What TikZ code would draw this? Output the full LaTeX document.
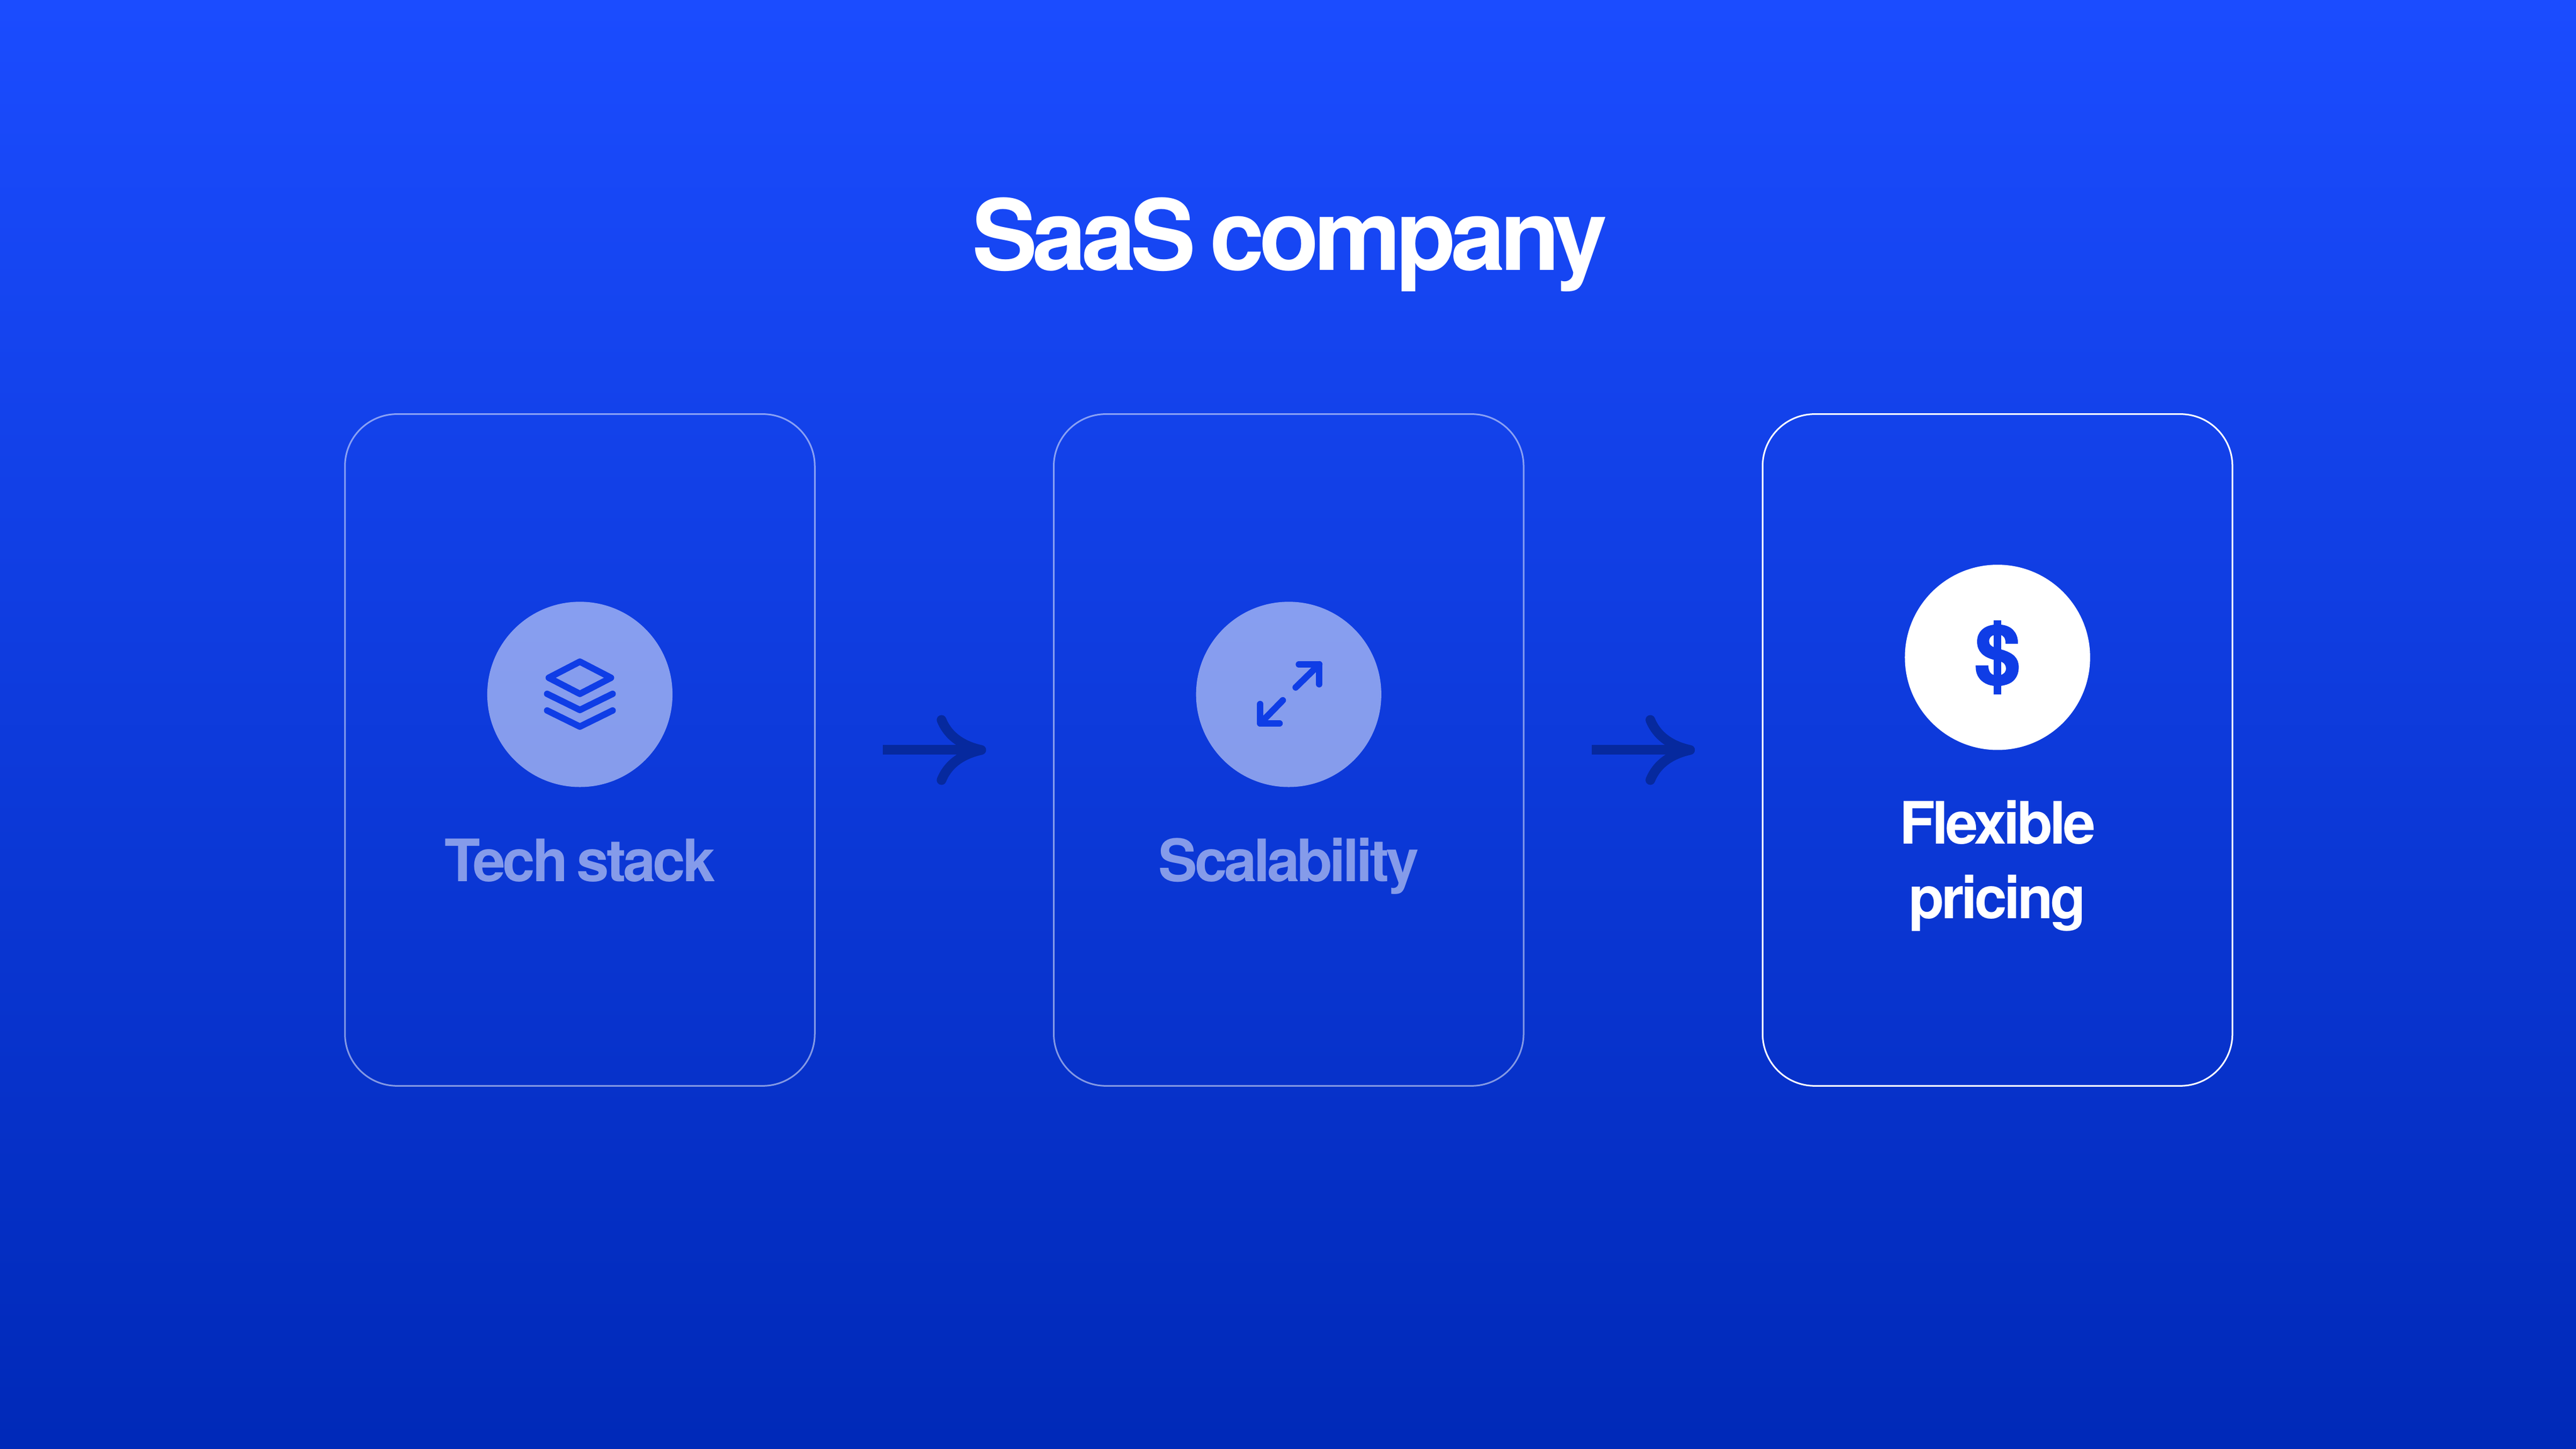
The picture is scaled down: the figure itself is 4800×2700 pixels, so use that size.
\documentclass[tikz,border=0pt]{standalone}
\usepackage{fontspec}
\setmainfont{TeX Gyre Heros}[WordSpace=0.65]
\usetikzlibrary{arrows.meta,positioning}
\definecolor{BgTop}{HTML}{1B4CFF}
\definecolor{BgBottom}{HTML}{0029B8}
\definecolor{IconBlue}{HTML}{0F3DE6}
\definecolor{ArrowBlue}{HTML}{06299E}
\tikzstyle{Card} = [draw=white, rectangle, rounded corners=0.97cm, line width=0.03cm, minimum width=8.75cm, minimum height=12.51cm, outer sep=0pt]
\tikzstyle{Faded} = [draw opacity=0.5]
\tikzstyle{Disc} = [circle, fill=white, minimum size=3.45cm, inner sep=0pt, outer sep=0pt, text=IconBlue, font=\fontsize{43pt}{43pt}\bfseries\addfontfeature{FakeBold=2.5}]
\tikzstyle{DiscFaded} = [fill opacity=0.5]
\tikzstyle{Label} = [anchor=base, align=center, text=white, inner sep=0pt, font=\fontsize{31pt}{39.3pt}\bfseries\addfontfeature{LetterSpace=-5}]
\tikzstyle{Title} = [anchor=base, text=white, inner sep=0pt, font=\fontsize{52pt}{52pt}\bfseries\addfontfeature{LetterSpace=-5.5}]
\tikzstyle{Glyph} = [draw=IconBlue, line width=0.12cm, line cap=round, line join=round]
\tikzstyle{Flow} = [draw=ArrowBlue, line width=0.18cm, shorten <=1.27cm, shorten >=1.26cm, -{Computer Modern Rightarrow[length=0.92cm, width=1.3cm]}]

\begin{document}
\begin{tikzpicture}[x=0.01cm, y=0.01cm]
    \useasboundingbox (0,0) rectangle (4800,2700);
    \fill[top color=BgTop, bottom color=BgBottom] (0,0) rectangle (4800,2700);
    \node[Title] (title) at (2403,2196) {SaaS company};

    \node[Card, Faded] (tech) at (1080.5,1302.5) {};
    \node[Card, Faded] (scale) [right=4.45cm of tech] {};
    \node[Card]        (pricing) [right=4.45cm of scale] {};

    \node[Disc, DiscFaded] (techdisc) [yshift=1.035cm] at (tech) {};
    \node[Disc, DiscFaded] (scaledisc) [yshift=1.035cm] at (scale) {};
    \node[Disc] (pricingdisc) [yshift=1.725cm] at (pricing) {\$};

    \node[Label, text opacity=0.5] (techlabel) [yshift=-2.445cm] at (tech) {Tech stack};
    \node[Label, text opacity=0.5] (scalelabel) [yshift=-2.445cm] at (scale) {Scalability};
    \node[Label] (pricinglabel) [yshift=-3.135cm] at (pricing.center) {Flexible\\pricing};

    \draw[Flow] (tech) to (scale);
    \draw[Flow] (scale) to (pricing);

    % layers icon
    \draw[Glyph, shift={(techdisc.center)}] (0,61) -- (58,31) -- (0,1) -- (-58,31) -- cycle;
    \draw[Glyph, shift={(techdisc.center)}] (-61,1) -- (0,-29) -- (61,1);
    \draw[Glyph, shift={(techdisc.center)}] (-61,-30) -- (0,-60) -- (61,-30);
    % expand icon
    \draw[Glyph, shift={(scaledisc.center)}] (13,13) -- (57,56);
    \draw[Glyph, shift={(scaledisc.center)}] (19,56) -- (57,56) -- (57,19);
    \draw[Glyph, shift={(scaledisc.center)}] (-11,-11) -- (-53,-54);
    \draw[Glyph, shift={(scaledisc.center)}] (-17,-54) -- (-53,-54) -- (-53,-18);
\end{tikzpicture}
\end{document}
